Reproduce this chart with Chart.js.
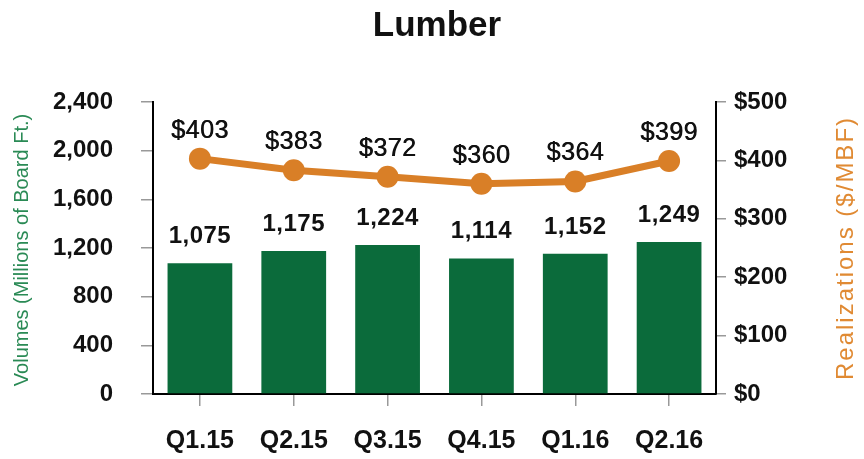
<!DOCTYPE html>
<html>
<head>
<meta charset="utf-8">
<script src="https://cdn.jsdelivr.net/npm/chart.js@4.4.1/dist/chart.umd.min.js"></script>
<style>
  html, body { margin: 0; padding: 0; background: #fff; }
  #wrap { width: 864px; height: 459px; position: relative; }
</style>
</head>
<body>
<div id="wrap"><canvas id="chart"></canvas></div>
<script>
const quarters = ['Q1.15', 'Q2.15', 'Q3.15', 'Q4.15', 'Q1.16', 'Q2.16'];
const volumes = [1075, 1175, 1224, 1114, 1152, 1249];
const realizations = [403, 383, 372, 360, 364, 399];
const volumeTicks = [0, 400, 800, 1200, 1600, 2000, 2400];
const priceTicks = [0, 100, 200, 300, 400, 500];

const FONT = '"Liberation Sans", Arial, sans-serif';
const GREEN = '#0b6b3b';
const ORANGE = '#d97f27';

const fmt = (v) => v.toLocaleString('en-US');

// titles + value labels drawn by hand
const labelsPlugin = {
  id: 'labels',
  afterDatasetsDraw(chart) {
    const ctx = chart.ctx;
    ctx.save();
    ctx.fillStyle = '#111';
    ctx.textAlign = 'center';
    ctx.textBaseline = 'alphabetic';

    const bars = chart.getDatasetMeta(0).data;
    ctx.font = 'bold 24px ' + FONT;
    ctx.letterSpacing = '0.5px';
    bars.forEach((el, i) => ctx.fillText(fmt(volumes[i]), el.x, el.y - 20));

    const pts = chart.getDatasetMeta(1).data;
    ctx.font = '25px ' + FONT;
    ctx.letterSpacing = '0.5px';
    pts.forEach((el, i) => {
      // fake a slightly heavier stroke like the source
      ctx.fillText('$' + realizations[i], el.x, el.y - 21);
      ctx.fillText('$' + realizations[i], el.x + 0.6, el.y - 21);
    });
    ctx.restore();
  },
  afterDraw(chart) {
    const ctx = chart.ctx;
    ctx.save();
    ctx.textAlign = 'center';
    ctx.textBaseline = 'middle';
    ctx.fillStyle = '#111';
    ctx.font = 'bold 35px ' + FONT;
    ctx.fillText('Lumber', 437, 26);

    ctx.save();
    ctx.translate(22, 250);
    ctx.rotate(-Math.PI / 2);
    ctx.fillStyle = '#2a8a55';
    ctx.font = '20px ' + FONT;
    ctx.fillText('Volumes (Millions of Board Ft.)', 0, 0);
    ctx.restore();

    ctx.save();
    ctx.translate(846, 248);
    ctx.rotate(-Math.PI / 2);
    ctx.fillStyle = '#e08a33';
    ctx.font = '24px ' + FONT;
    ctx.letterSpacing = '2px';
    ctx.fillText('Realizations ($/MBF)', 0, 0);
    ctx.restore();
    ctx.restore();
  },
};

function init() {
  const ctx = document.getElementById('chart');
  new Chart(ctx, {
    type: 'bar',
    data: {
      labels: quarters,
      datasets: [
        {
          type: 'bar',
          label: 'Volumes',
          data: volumes,
          backgroundColor: GREEN,
          yAxisID: 'y',
          barPercentage: 0.69,
          categoryPercentage: 1,
          order: 1,
        },
        {
          type: 'line',
          label: 'Realizations',
          data: realizations,
          borderColor: ORANGE,
          backgroundColor: ORANGE,
          borderWidth: 7,
          pointRadius: 11,
          pointBackgroundColor: ORANGE,
          pointBorderWidth: 0,
          tension: 0,
          yAxisID: 'y1',
          order: 0,
        },
      ],
    },
    options: {
      responsive: true,
      maintainAspectRatio: false,
      animation: false,
      layout: { padding: { top: 102, left: 0, right: 0, bottom: 0 } },
      plugins: {
        legend: { display: false },
        title: { display: false },
        tooltip: { enabled: false },
      },
      scales: {
        x: {
          grid: {
            offset: false,
            drawOnChartArea: false,
            color: '#999',
            tickLength: 12,
            lineWidth: 1.5,
          },
          border: { color: '#000', width: 2 },
          ticks: {
            color: '#111',
            font: { family: FONT, size: 25, weight: 'bold' },
            padding: 20,
            maxRotation: 0,
          },
          afterFit: (s) => { s.height = 65; },
        },
        y: {
          position: 'left',
          min: 0,
          max: 2400,
          afterBuildTicks: (s) => { s.ticks = volumeTicks.map((v) => ({ value: v })); },
          grid: { drawOnChartArea: false, color: '#999', tickLength: 12, lineWidth: 1.5 },
          border: { color: '#000', width: 2 },
          ticks: {
            color: '#111',
            font: { family: FONT, size: 24, weight: 'bold' },
            padding: 28,
            callback: (v) => fmt(v),
          },
          afterFit: (s) => { s.width = 153; },
        },
        y1: {
          position: 'right',
          min: 0,
          max: 500,
          afterBuildTicks: (s) => { s.ticks = priceTicks.map((v) => ({ value: v })); },
          grid: { drawOnChartArea: false, color: '#999', tickLength: 10, lineWidth: 1.5 },
          border: { color: '#000', width: 2 },
          ticks: {
            color: '#111',
            font: { family: FONT, size: 24, weight: 'bold' },
            padding: 8,
            callback: (v) => '$' + v,
          },
          afterFit: (s) => { s.width = 148; },
        },
      },
    },
    plugins: [labelsPlugin],
  });
}

document.addEventListener('DOMContentLoaded', init);
</script>
</body>
</html>
